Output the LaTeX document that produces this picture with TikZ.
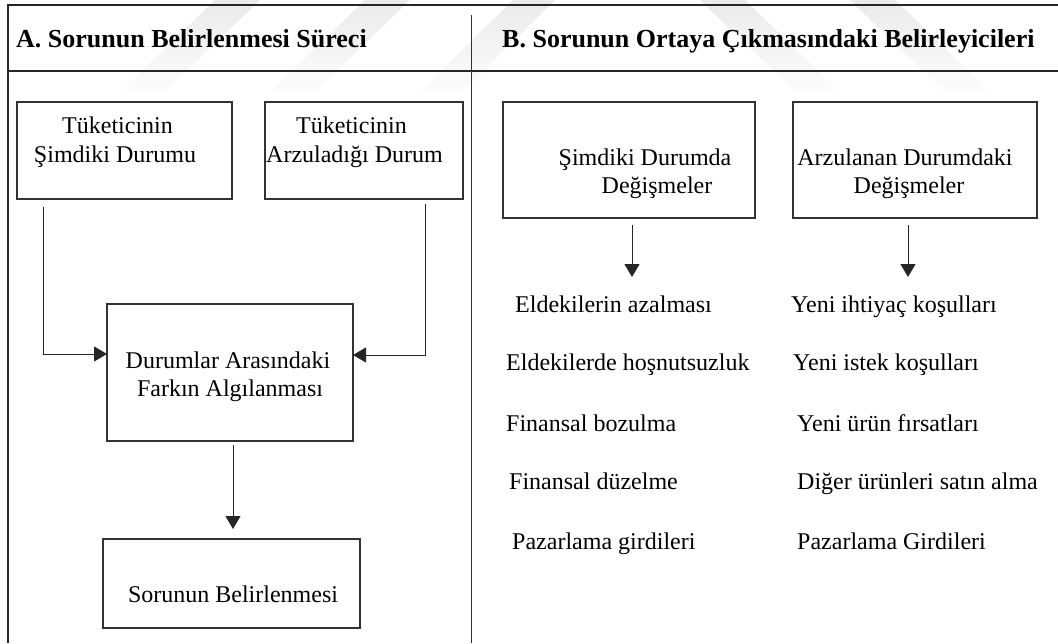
\documentclass[tikz,border=0pt]{standalone}
\usepackage{fontspec}
\setmainfont{Liberation Serif}
\usetikzlibrary{arrows.meta,calc}
\begin{document}
\begin{tikzpicture}[x=1pt,y=-1pt,
  frame/.style={draw=black!85,line width=2.2pt},
  divider/.style={draw=black!80,line width=1pt},
  box/.style={draw=black!80,line width=1.3pt,inner sep=0pt,outer sep=0pt},
  conn/.style={draw=black!85,line width=1pt,-{Triangle[length=13pt,width=15pt]}},
  txt/.style={inner sep=0pt,font=\fontsize{24}{28}\selectfont},
  hdr/.style={inner sep=0pt,font=\fontsize{26}{30}\selectfont\bfseries},
  stripe/.style={top color=black!8,bottom color=black!1,draw=none}]
\useasboundingbox (0,0) rectangle (1058,643);
\fill[white] (0,0) rectangle (1058,643);

% faint background watermark stripes
\shade[stripe] (120,92) -- (165,92) -- (260,0) -- (215,0) -- cycle;
\shade[stripe] (270,92) -- (315,92) -- (410,0) -- (365,0) -- cycle;
\shade[stripe] (420,92) -- (462,92) -- (555,0) -- (513,0) -- cycle;
\shade[stripe] (700,0) -- (745,0) -- (840,92) -- (795,92) -- cycle;
\shade[stripe] (850,0) -- (895,0) -- (990,92) -- (945,92) -- cycle;

% outer frame and header rule
\draw[frame] (1058,5) -- (8,5) -- (8,643);
\draw[frame] (8,71) -- (1058,71);
\draw[divider] (471,15) -- (471,643);

% headers
\node[hdr,anchor=base west] (hA) at (16,47) {A. Sorunun Belirlenmesi Süreci};
\node[hdr,anchor=base west] (hB) at (502,47) {B. Sorunun Ortaya Çıkmasındaki Belirleyicileri};

% ---- left panel: process boxes
\node[box,minimum width=215,minimum height=97] (b1) at (124.5,150.5) {};
\node[box,minimum width=198,minimum height=97] (b2) at (364,150.5) {};
\node[box,minimum width=246,minimum height=137] (b3) at (230,372.5) {};
\node[box,minimum width=257,minimum height=89] (b4) at (231.5,583.5) {};

\node[txt,anchor=base] (b1a) at (117.5,133) {Tüketicinin};
\node[txt,anchor=base] (b1b) at (115,162) {Şimdiki Durumu};
\node[txt,anchor=base] (b2a) at (351.5,133) {Tüketicinin};
\node[txt,anchor=base] (b2b) at (354.5,162) {Arzuladığı Durum};
\node[txt,anchor=base] (b3a) at (228,368) {Durumlar Arasındaki};
\node[txt,anchor=base] (b3b) at (230,396) {Farkın Algılanması};
\node[txt,anchor=base] (b4a) at (233,602) {Sorunun Belirlenmesi};

\draw[conn] ($(b1.south west)+(26,8)$) |- ($(b3.north west)+(0,50)$);
\draw[conn] ($(b2.south east)+(-38,5)$) |- ($(b3.north east)+(0,51)$);
\draw[conn,shorten <=4pt,shorten >=10pt] ($(b3.south)+(3,0)$) -- ($(b4.north)+(1.5,0)$);

% ---- right panel: determinants
\node[box,minimum width=252,minimum height=116] (b5) at (629,160) {};
\node[box,minimum width=244,minimum height=116] (b6) at (915,160) {};

\node[txt,anchor=base] (b5a) at (645,165) {Şimdiki Durumda};
\node[txt,anchor=base] (b5b) at (657,193) {Değişmeler};
\node[txt,anchor=base] (b6a) at (905,165) {Arzulanan Durumdaki};
\node[txt,anchor=base] (b6b) at (909,193) {Değişmeler};

\coordinate (e5) at (632,277);
\coordinate (e6) at (908,277);
\draw[conn] ($(b5.south)+(3,7)$) -- (e5);
\draw[conn] ($(b6.south)+(-7,7)$) -- (e6);

\node[txt,anchor=base west] (l1) at (515,312) {Eldekilerin azalması};
\node[txt,anchor=base west] (l2) at (506,370) {Eldekilerde hoşnutsuzluk};
\node[txt,anchor=base west] (l3) at (506,431) {Finansal bozulma};
\node[txt,anchor=base west] (l4) at (509,489) {Finansal düzelme};
\node[txt,anchor=base west] (l5) at (512,549) {Pazarlama girdileri};

\node[txt,anchor=base west] (r1) at (791,312) {Yeni ihtiyaç koşulları};
\node[txt,anchor=base west] (r2) at (793,370) {Yeni istek koşulları};
\node[txt,anchor=base west] (r3) at (797,431) {Yeni ürün fırsatları};
\node[txt,anchor=base west] (r4) at (797,489) {Diğer ürünleri satın alma};
\node[txt,anchor=base west] (r5) at (797,549) {Pazarlama Girdileri};
\end{tikzpicture}
\end{document}
